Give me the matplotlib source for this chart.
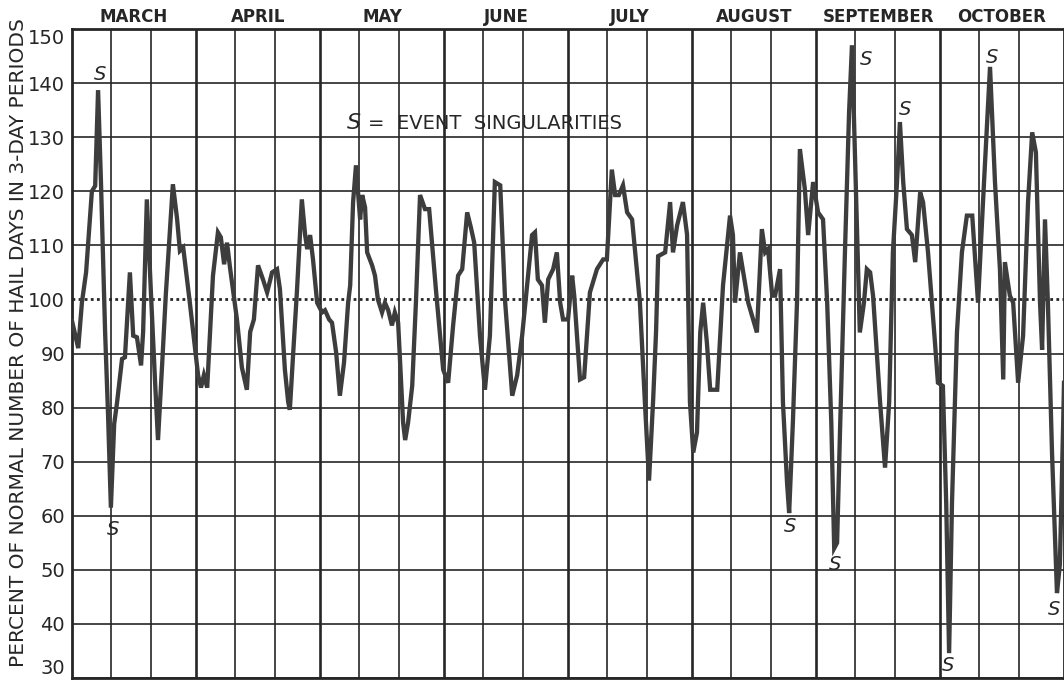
import matplotlib
matplotlib.use("Agg")
import matplotlib.pyplot as plt
from matplotlib.transforms import blended_transform_factory

# season axis: days from March 1, each month drawn as 30 days wide
months = ["MARCH", "APRIL", "MAY", "JUNE", "JULY", "AUGUST", "SEPTEMBER", "OCTOBER"]
y_ticks = [30, 40, 50, 60, 70, 80, 90, 100, 110, 120, 130, 140, 150]

day = [
    0.0, 1.5, 2.4, 3.4, 4.8, 5.6, 6.3, 7.0, 8.0, 8.7, 9.4, 10.2, 10.9, 12.1, 12.8,
    14.0, 14.8, 15.7, 16.7, 17.2, 18.1, 19.1, 20.1, 20.8, 21.8, 22.7, 24.4, 25.4,
    26.1, 26.9, 28.5, 30.5, 31.2, 31.9, 32.7, 34.1, 35.3, 36.0, 36.8, 37.5, 38.2,
    39.9, 41.1, 42.3, 43.1, 44.0, 45.0, 46.2, 47.2, 48.4, 49.6, 50.3, 51.5, 52.3,
    52.7, 53.5, 54.4, 55.6, 56.4, 56.9, 57.6, 58.3, 59.3, 60.5, 61.2, 62.2, 62.9,
    63.9, 64.8, 65.8, 66.8, 67.3, 68.0, 68.7, 69.2, 69.7, 70.2, 70.9, 71.4, 72.6,
    73.3, 74.0, 75.0, 75.7, 76.5, 77.4, 78.1, 78.9, 80.1, 80.6, 81.3, 82.3, 83.2,
    84.2, 85.4, 86.4, 88.1, 89.8, 91.0, 92.2, 93.4, 94.4, 95.6, 96.5, 97.3, 98.7,
    99.9, 101.1, 102.3, 103.6, 104.8, 106.5, 107.7, 108.9, 111.3, 112.0, 112.7,
    113.7, 114.4, 115.2, 116.4, 117.3, 118.1, 118.8, 120.0, 121.0, 121.5, 122.9,
    123.9, 125.3, 127.0, 128.5, 129.4, 130.6, 131.4, 132.3, 133.3, 134.3, 135.5,
    137.4, 138.6, 139.6, 140.6, 141.3, 141.8, 143.5, 144.7, 145.4, 146.4, 147.8,
    148.8, 149.5, 150.3, 151.2, 152.0, 152.7, 153.6, 154.4, 156.1, 157.5, 159.2,
    159.9, 160.4, 161.6, 163.6, 165.7, 166.9, 167.7, 168.4, 169.4, 170.1, 171.3,
    172.0, 173.0, 173.5, 174.4, 175.4, 176.1, 177.3, 178.1, 179.3, 180.5, 181.7,
    182.7, 183.7, 184.4, 185.1, 185.8, 187.0, 188.0, 188.7, 189.4, 190.6, 191.6,
    192.3, 193.1, 193.8, 195.5, 196.7, 197.7, 198.6, 199.6, 200.3, 201.1, 202.0,
    203.2, 204.0, 205.2, 205.9, 207.1, 208.6, 209.5, 210.7, 211.5, 212.2, 212.9,
    214.1, 215.3, 216.5, 217.8, 219.2, 220.4, 222.1, 223.3, 224.5, 225.3, 225.7,
    226.9, 227.7, 228.9, 230.1, 231.3, 232.3, 233.2, 234.2, 234.7, 235.4, 236.1,
    237.1, 238.3, 239.0, 239.8, 240.0,
]
pct = [
    96, 91, 99.5, 105, 120, 121, 138.7, 121.7, 94, 79, 61.5, 77, 81, 89, 89.3,
    105, 93.3, 93, 87.8, 94, 118.5, 101, 84.6, 74, 88, 101, 121.3, 115,
    109, 109.6, 99.4, 86, 83.7, 86, 83.7, 104.4, 112.4, 111.5, 106.5, 110.5, 106,
    96.3, 87.4, 83.3, 94, 96.3, 106.3, 103.7, 101.3, 105, 105.6, 101.9, 87, 81,
    79.6, 90, 101.3, 118.5, 111.9, 109.3, 111.9, 107.4, 99.4, 97.6, 98, 96.3, 95.7,
    90.2, 82.2, 88.3, 99.4, 102.6, 118, 124.8, 119.8, 114.8, 119.3, 117, 108.7, 106.3,
    104.4, 100, 97.6, 99.4, 98, 95.2, 97.6, 95.7, 77.2, 74, 77.2, 84, 99.4,
    119.3, 116.7, 116.7, 101.3, 87, 84.6, 95.2, 104.4, 105.6, 116.1, 113.3, 110.5, 93.3,
    83.3, 93.3, 121.7, 121.1, 99.4, 82.2, 86, 93.3, 111.9, 112.4, 103.7,
    102.6, 95.7, 103.7, 105.6, 108.7, 99.4, 96.3, 96.3, 104.4, 100.7, 85.2,
    85.6, 101.3, 105.6, 107.4, 107.4, 124, 119.3, 119.3, 121.1, 116.1, 114.8,
    99.4, 81, 66.5, 81.5, 94, 108, 108.7, 118, 108.7, 113.7, 118,
    112, 81, 71.7, 75.4, 94, 99.4, 92, 83.3, 83.3, 102.6, 115.5,
    111.9, 99.4, 108.7, 99.4, 93.9, 113, 108.7, 109.3, 100.7, 100.7, 105.6,
    81, 66, 60.5, 77.2, 99.4, 127.8, 120.4, 111.9, 121.7, 116.1, 114.8,
    99.4, 77.2, 54, 55, 75.4, 108.7, 134.6, 147, 127.2, 93.9, 99.4,
    105.6, 105, 100.7, 81, 68.9, 81, 108.7, 121.7, 132.8, 121.7, 113,
    111.9, 106.9, 119.8, 118, 108.7, 93.9, 84.6, 84, 62.4, 34.6, 62.4,
    93.9, 108.7, 115.5, 115.5, 99.4, 118, 143, 121.7, 105.6, 85.2, 106.9,
    100.7, 99.4, 84.6, 93.3, 118, 130.9, 127.2, 99.4, 90.7, 114.8, 99.4,
    71.7, 45.7, 51, 77, 84.6,
]

ink = "#262626"
fig = plt.figure(figsize=(10.64, 6.83), dpi=100)
ax = fig.add_axes([0.0677, 0.0073, 0.9323, 0.9502])
ax.set_xlim(0, 240)
ax.set_ylim(30, 150)

# grid: thin dekad lines, heavier month lines
for m in range(len(months)):
    for f in (0.3125, 0.635):
        ax.axvline(m * 30 + f * 30, color=ink, lw=1.2, zorder=1)
    if m > 0:
        ax.axvline(m * 30, color=ink, lw=1.9, zorder=1)
for v in y_ticks:
    if v != 100:
        ax.axhline(v, color=ink, lw=1.2, zorder=1)
ax.axhline(100, color=ink, lw=2.0, linestyle=(0, (1, 1.2)), zorder=2)

ax.plot(day, pct, color="#3d3d3d", lw=3.1, solid_joinstyle="miter", zorder=3)

for s in ax.spines.values():
    s.set_linewidth(2.0)
    s.set_color(ink)

ax.set_xticks([])
ax.set_yticks(y_ticks)
ax.set_yticklabels([str(v) for v in y_ticks], fontsize=14, color=ink)
ax.tick_params(axis="y", length=0, pad=5)
labels = ax.get_yticklabels()
labels[0].set_va("bottom")
labels[-1].set_va("top")

trans = blended_transform_factory(ax.transData, ax.transAxes)
for m, name in enumerate(months):
    ax.text(m * 30 + 15, 1.004, name, transform=trans, ha="center", va="bottom",
            fontsize=12, fontweight="bold", color=ink)

fig.text(0.017, 0.499, "PERCENT OF NORMAL NUMBER OF HAIL DAYS IN 3-DAY PERIODS",
         rotation=90, ha="center", va="center", fontsize=14.5, color=ink)

ax.text(66.5, 132.6, "S", fontsize=16, style="italic", color=ink, va="center")
ax.text(71.5, 132.6, "=  EVENT  SINGULARITIES", fontsize=14, color=ink, va="center")

# "S" marks next to the event singularities
s_x = [6.8, 9.9, 173.7, 184.6, 192.1, 201.5, 212.0, 222.6, 237.6]
s_y = [141.5, 57.4, 58.1, 50.9, 144.4, 135.2, 32.4, 144.8, 42.6]
for x, y in zip(s_x, s_y):
    ax.text(x, y, "S", fontsize=14, style="italic", color=ink,
            ha="center", va="center", zorder=4)

fig.savefig("out.png", dpi=100, facecolor="white")
